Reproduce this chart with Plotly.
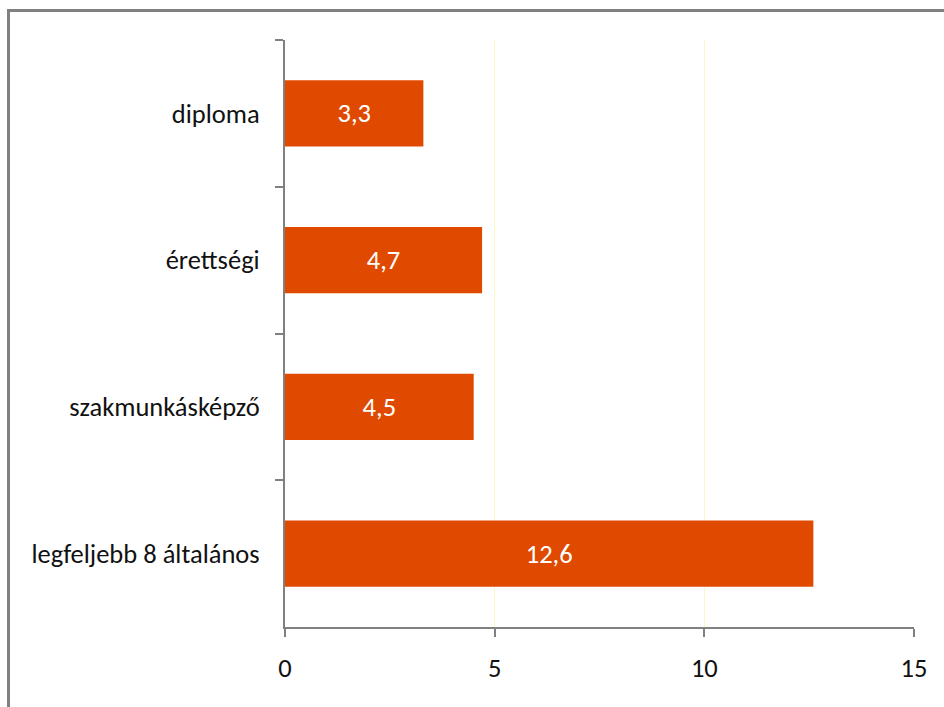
import plotly.graph_objects as go

categories = ["diploma", "érettségi", "szakmunkásképző", "legfeljebb 8 általános"]
values = [3.3, 4.7, 4.5, 12.6]
x_ticks = [0, 5, 10, 15]

labels = [f"{v:.1f}".replace(".", ",") for v in values]

W, H = 944, 707
ML, MR, MT, MB = 285, 30, 40, 80
PW = W - ML - MR
PH = H - MT - MB

def px_x(p):
    return (p - ML) / PW

def px_y(p):
    return 1 - (p - MT) / PH

FONT = "Carlito, Calibri, Lato, sans-serif"
FS = 26.5

fig = go.Figure(go.Bar(
    y=categories, x=values, orientation="h",
    marker=dict(color="#E04A00", line=dict(width=0)),
    text=labels, textposition="inside", insidetextanchor="middle",
    textfont=dict(color="white", size=FS, family=FONT),
    hoverinfo="skip",
))

fig.update_layout(
    width=W, height=H,
    margin=dict(l=ML, r=MR, t=MT, b=MB),
    paper_bgcolor="white", plot_bgcolor="white",
    bargap=0.55,
    showlegend=False,
    font=dict(family=FONT, size=FS, color="#111111"),
    shapes=[
        dict(type="line", xref="paper", yref="paper",
             x0=px_x(8.5), x1=px_x(8.5), y0=px_y(9), y1=px_y(710),
             line=dict(color="#808080", width=3)),
        dict(type="line", xref="paper", yref="paper",
             x0=px_x(7), x1=px_x(950), y0=px_y(10.5), y1=px_y(10.5),
             line=dict(color="#808080", width=3)),
    ],
)

fig.update_xaxes(
    range=[0, 15], tickvals=x_ticks, ticktext=[str(t) for t in x_ticks],
    showgrid=True, gridcolor="#FFF6C8", gridwidth=1,
    showline=True, linecolor="#808080", linewidth=2,
    ticks="outside", ticklen=8, tickcolor="#808080", tickwidth=2,
    zeroline=False, fixedrange=True,
    ticklabelstandoff=8,
    tickfont=dict(size=FS, color="#111111", family=FONT),
)
fig.update_yaxes(
    autorange="reversed", type="category",
    showline=True, linecolor="#808080", linewidth=2,
    ticks="outside", ticklen=8, tickcolor="#808080", tickwidth=2,
    tickson="boundaries", showgrid=False, fixedrange=True,
    ticklabelstandoff=18,
    tickfont=dict(size=FS, color="#111111", family=FONT),
)

fig.write_html("out.html", config={"displayModeBar": False},
               post_script="document.body.style.margin='0';")
